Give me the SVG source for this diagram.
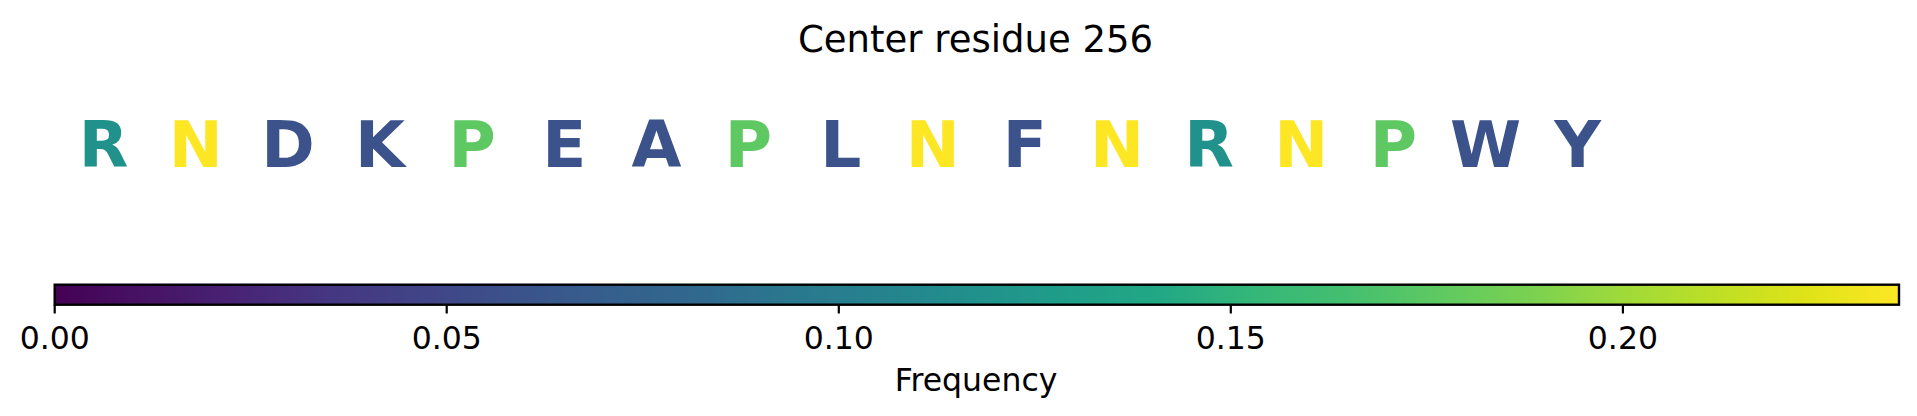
<svg xmlns="http://www.w3.org/2000/svg" width="1917" height="416" viewBox="0 0 1917 416">
<defs>
<linearGradient id="viridis" x1="0" y1="0" x2="1" y2="0">
<stop offset="0" stop-color="#440154"/>
<stop offset="0.05" stop-color="#471365"/>
<stop offset="0.1" stop-color="#482475"/>
<stop offset="0.15" stop-color="#453781"/>
<stop offset="0.2" stop-color="#414487"/>
<stop offset="0.25" stop-color="#3b528b"/>
<stop offset="0.3" stop-color="#355f8d"/>
<stop offset="0.35" stop-color="#30698e"/>
<stop offset="0.4" stop-color="#2a788e"/>
<stop offset="0.45" stop-color="#25838e"/>
<stop offset="0.5" stop-color="#21918c"/>
<stop offset="0.55" stop-color="#1f9e89"/>
<stop offset="0.6" stop-color="#22a884"/>
<stop offset="0.65" stop-color="#35b779"/>
<stop offset="0.7" stop-color="#44bf70"/>
<stop offset="0.75" stop-color="#5ec962"/>
<stop offset="0.8" stop-color="#7ad151"/>
<stop offset="0.85" stop-color="#9fda3a"/>
<stop offset="0.9" stop-color="#bddf26"/>
<stop offset="0.95" stop-color="#dfe318"/>
<stop offset="1" stop-color="#fde725"/>
</linearGradient>
</defs>
<style>
.res { font-family: "DejaVu Sans", "Liberation Sans", sans-serif; font-weight: bold; font-size: 64.5px; text-anchor: middle; }
.f1 { fill: #3b528b; }
.f2 { fill: #21918c; }
.f3 { fill: #5ec962; }
.f4 { fill: #fde725; }
.lbl { font-family: "DejaVu Sans", "Liberation Sans", sans-serif; font-size: 31.5px; fill: #000; text-anchor: middle; }
.title { font-family: "DejaVu Sans", "Liberation Sans", sans-serif; font-size: 37px; fill: #000; text-anchor: middle; }
.tick { stroke: #000; stroke-width: 2.2; }
</style>
<rect x="0" y="0" width="1917" height="416" fill="#ffffff"/>
<g id="title"><text class="title" x="975.5" y="52">Center residue 256</text></g>
<g id="residues">
<g id="r0"><text class="res f2" x="103.7" y="167">R</text></g>
<g id="r1"><text class="res f4" x="195.8" y="167">N</text></g>
<g id="r2"><text class="res f1" x="287.9" y="167">D</text></g>
<g id="r3"><text class="res f1" x="380.1" y="167">K</text></g>
<g id="r4"><text class="res f3" x="472.2" y="167">P</text></g>
<g id="r5"><text class="res f1" x="564.3" y="167">E</text></g>
<g id="r6"><text class="res f1" x="656.4" y="167">A</text></g>
<g id="r7"><text class="res f3" x="748.5" y="167">P</text></g>
<g id="r8"><text class="res f1" x="840.7" y="167">L</text></g>
<g id="r9"><text class="res f4" x="932.8" y="167">N</text></g>
<g id="r10"><text class="res f1" x="1024.9" y="167">F</text></g>
<g id="r11"><text class="res f4" x="1117.0" y="167">N</text></g>
<g id="r12"><text class="res f2" x="1209.1" y="167">R</text></g>
<g id="r13"><text class="res f4" x="1301.3" y="167">N</text></g>
<g id="r14"><text class="res f3" x="1393.4" y="167">P</text></g>
<g id="r15"><text class="res f1" x="1485.5" y="167">W</text></g>
<g id="r16"><text class="res f1" x="1577.6" y="167">Y</text></g>
</g>
<g id="colorbar">
<rect x="54.7" y="284.7" width="1844.3" height="20" fill="url(#viridis)" stroke="#000" stroke-width="2.4"/>
<g id="ticks">
<line class="tick" x1="54.7" y1="305" x2="54.7" y2="313.5"/>
<line class="tick" x1="446.7" y1="305" x2="446.7" y2="313.5"/>
<line class="tick" x1="838.8" y1="305" x2="838.8" y2="313.5"/>
<line class="tick" x1="1230.8" y1="305" x2="1230.8" y2="313.5"/>
<line class="tick" x1="1622.9" y1="305" x2="1622.9" y2="313.5"/>
</g>
<g id="ticklabels">
<text class="lbl" x="54.7" y="349">0.00</text>
<text class="lbl" x="446.7" y="349">0.05</text>
<text class="lbl" x="838.8" y="349">0.10</text>
<text class="lbl" x="1230.8" y="349">0.15</text>
<text class="lbl" x="1622.9" y="349">0.20</text>
</g>
<g id="cbar-label"><text class="lbl" x="976" y="391">Frequency</text></g>
</g>
</svg>
